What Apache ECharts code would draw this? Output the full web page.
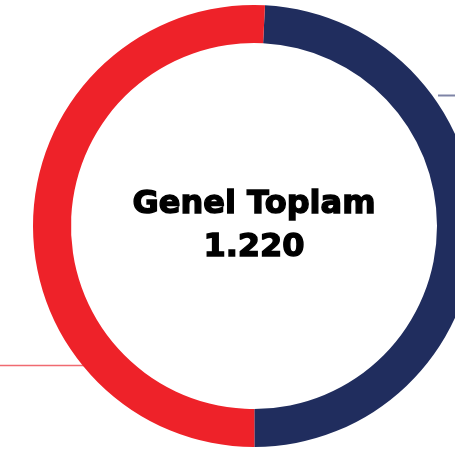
<!DOCTYPE html>
<html>
<head>
<meta charset="utf-8">
<script src="https://cdn.jsdelivr.net/npm/echarts@6/dist/echarts.min.js"></script>
<style>
  html, body { margin: 0; padding: 0; background: #fff; }
  #chart { width: 455px; height: 452px; }
</style>
</head>
<body>
<div id="chart"></div>
<script>
// veriler
const categories = ['Lacivert', 'Kırmızı']
const values = [600, 620]
const colors = ['#202d5e', '#ee2229']
const totalLabel = 'Genel Toplam'
const totalValue = '1.220'

const chart = echarts.init(document.getElementById('chart'), null, { renderer: 'canvas' })

const cx = 254
const cy = 226

// ortadaki kalın yazı stili
const centerText = {
  align: 'center',
  verticalAlign: 'middle',
  fontFamily: 'DejaVu Sans',
  fontWeight: 'bold',
  fontSize: 32,
  fill: '#000',
  stroke: '#000',
  lineWidth: 1.4
}

const option = {
  animation: false,
  series: [{
    type: 'pie',
    center: [cx, cy],
    radius: [183, 221],
    startAngle: 87.15,
    clockwise: true,
    silent: true,
    label: { show: false },
    labelLine: { show: false },
    data: categories.map((name, i) => ({
      name: name,
      value: values[i],
      itemStyle: { color: colors[i] }
    }))
  }],
  graphic: [
    // sağdaki ince çizgi
    {
      type: 'line',
      z: -1,
      shape: { x1: 438, y1: 95.5, x2: 455, y2: 95.5 },
      style: { stroke: '#7e84a6', lineWidth: 2 }
    },
    // soldaki ince çizgi
    {
      type: 'line',
      z: -1,
      shape: { x1: 0, y1: 365.5, x2: 90, y2: 365.5 },
      style: { stroke: '#f06a70', lineWidth: 1.6 }
    },
    {
      type: 'text',
      x: cx,
      y: 205,
      style: Object.assign({ text: totalLabel }, centerText)
    },
    {
      type: 'text',
      x: cx,
      y: 248,
      style: Object.assign({ text: totalValue }, centerText)
    }
  ]
}

chart.setOption(option)
</script>
</body>
</html>
